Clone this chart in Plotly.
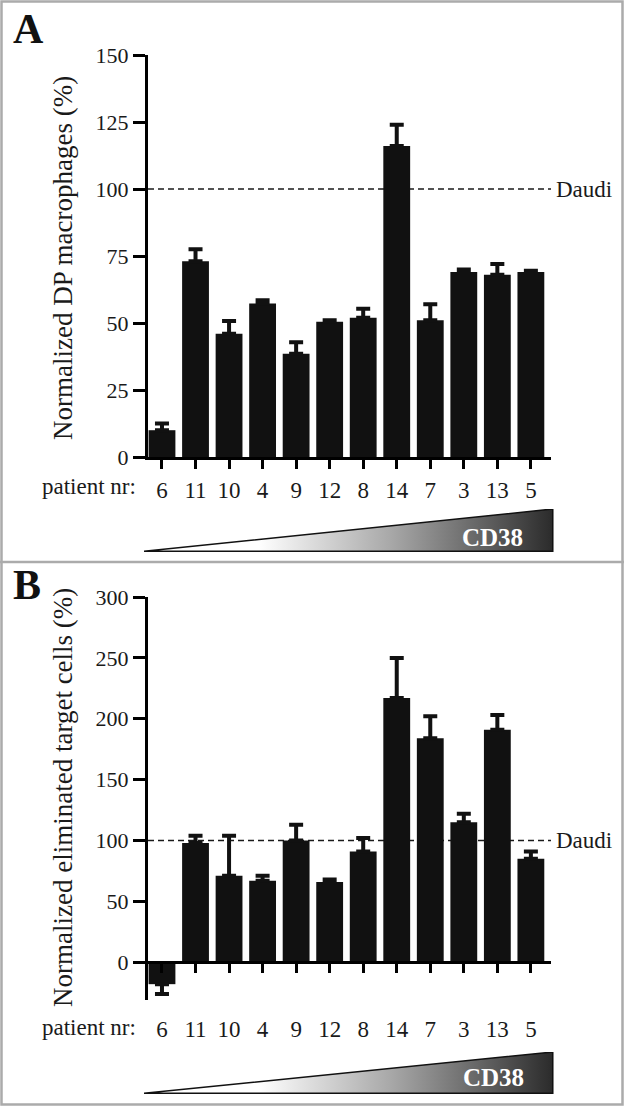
import plotly.graph_objects as go

# patient order (sorted by CD38 expression)
patients = ["6", "11", "10", "4", "9", "12", "8", "14", "7", "3", "13", "5"]

# panel A: normalized double-positive macrophages (%)
dp_macrophages = [10, 73, 46, 57.3, 38.5, 50.5, 52, 116, 51, 69, 68, 69]
dp_macrophages_err = [2.5, 4.5, 4.7, 1.2, 4.3, 0.5, 3.3, 8, 6, 1, 4, 0.5]

# panel B: normalized eliminated target cells (%)
eliminated_cells = [-18, 98, 71, 67, 100, 66, 91, 217, 184, 115, 191, 85]
eliminated_cells_err = [8, 6, 33, 4, 13, 2, 11, 33, 18, 7, 12, 6]

daudi_level = 100
yticks_a = [0, 25, 50, 75, 100, 125, 150]
yticks_b = [0, 50, 100, 150, 200, 250, 300]

# gradient wedge outline (unit square, drawn on hidden axes)
wedge_x = [0, 1, 1, 0]
wedge_y = [0, 0, 1, 0]

W, H = 624, 1106
FONT = "Liberation Serif, Times New Roman, serif"
BAR_COLOR = "#111111"


def px_x(p):
    return p / W


def px_y(p):
    return 1 - p / H


def err_split(values, errs):
    # one-sided error bars: up for positive bars, down for negative ones
    plus = [e if v >= 0 else 0 for v, e in zip(values, errs)]
    minus = [e if v < 0 else 0 for v, e in zip(values, errs)]
    return plus, minus


fig = go.Figure()

# ------ bars ------ #
for values, errs, xa, ya in [
    (dp_macrophages, dp_macrophages_err, "x", "y"),
    (eliminated_cells, eliminated_cells_err, "x2", "y2"),
]:
    plus, minus = err_split(values, errs)
    fig.add_trace(
        go.Bar(
            x=patients,
            y=values,
            xaxis=xa,
            yaxis=ya,
            marker=dict(color=BAR_COLOR, line=dict(width=0)),
            error_y=dict(
                type="data",
                symmetric=False,
                array=plus,
                arrayminus=minus,
                color=BAR_COLOR,
                thickness=4,
                width=7,
            ),
            showlegend=False,
        )
    )

# ------ CD38 wedges ------ #
wedge_scale = [
    [0, "#ffffff"],
    [0.28, "#ffffff"],
    [0.6, "#a9a9a9"],
    [0.85, "#5c5c5c"],
    [1, "#2b2b2b"],
]
for xa, ya in [("x3", "y3"), ("x4", "y4")]:
    fig.add_trace(
        go.Scatter(
            x=wedge_x,
            y=wedge_y,
            xaxis=xa,
            yaxis=ya,
            mode="lines",
            fill="toself",
            fillgradient=dict(type="horizontal", colorscale=wedge_scale),
            line=dict(color="#111111", width=1.5),
            hoverinfo="skip",
            showlegend=False,
        )
    )

x_range = [-0.417, 11.6]
dom_x = [px_x(148), px_x(551)]
y_range_b = [-31, 300]
dom_yb = [px_y(1000), px_y(597)]
zero_pos_b = dom_yb[0] + (0 - y_range_b[0]) / (y_range_b[1] - y_range_b[0]) * (
    dom_yb[1] - dom_yb[0]
)

common_x = dict(
    type="category",
    range=x_range,
    domain=dom_x,
    tickmode="array",
    tickvals=patients,
    ticktext=patients,
    showline=True,
    linewidth=3,
    linecolor="black",
    ticks="outside",
    ticklen=9,
    tickwidth=3,
    tickcolor="black",
    tickfont=dict(family=FONT, size=23, color="#1a1a1a"),
    showgrid=False,
    zeroline=False,
    fixedrange=True,
    automargin=False,
)
common_y = dict(
    showline=True,
    linewidth=3,
    linecolor="black",
    ticks="outside",
    ticklen=12,
    tickwidth=3,
    tickcolor="black",
    tickfont=dict(family=FONT, size=22, color="#1a1a1a"),
    showgrid=False,
    zeroline=False,
    fixedrange=True,
    automargin=False,
)
hidden = dict(
    visible=False, fixedrange=True, showgrid=False, zeroline=False, automargin=False
)

fig.update_layout(
    width=W,
    height=H,
    margin=dict(l=0, r=0, t=0, b=0, autoexpand=False),
    paper_bgcolor="white",
    plot_bgcolor="rgba(0,0,0,0)",
    bargap=0.2,
    font=dict(family=FONT, color="#1a1a1a"),
    xaxis=dict(common_x, anchor="y", ticklabelstandoff=1),
    yaxis=dict(
        common_y,
        domain=[px_y(457), px_y(55)],
        range=[0, 150],
        tickvals=yticks_a,
        anchor="x",
    ),
    xaxis2=dict(common_x, anchor="free", position=zero_pos_b, ticklabelstandoff=36),
    yaxis2=dict(
        common_y,
        domain=dom_yb,
        range=y_range_b,
        tickvals=yticks_b,
        anchor="x2",
    ),
    xaxis3=dict(hidden, domain=[px_x(144), px_x(554)], range=[0, 1.003], anchor="y3"),
    yaxis3=dict(hidden, domain=[px_y(553), px_y(509)], range=[-0.04, 1], anchor="x3"),
    xaxis4=dict(hidden, domain=[px_x(144), px_x(554)], range=[0, 1.003], anchor="y4"),
    yaxis4=dict(hidden, domain=[px_y(1095), px_y(1052)], range=[-0.04, 1], anchor="x4"),
)

# ------ Daudi reference lines ------ #
for xref, yref in [("x domain", "y"), ("x2 domain", "y2")]:
    fig.add_shape(
        type="line",
        xref=xref,
        yref=yref,
        x0=0,
        x1=1,
        y0=daudi_level,
        y1=daudi_level,
        line=dict(color="#1a1a1a", width=1.5, dash="6px,4px"),
        layer="below",
    )
    fig.add_annotation(
        xref=xref,
        yref=yref,
        x=1,
        y=daudi_level,
        text="Daudi",
        showarrow=False,
        xanchor="left",
        yanchor="middle",
        xshift=3,
        font=dict(family=FONT, size=23, color="#1a1a1a"),
    )

# ------ text ------ #
texts = [
    ("A", 11, 29, 42, True, "left", 0, "#111111"),
    ("B", 11, 585, 42, True, "left", 0, "#111111"),
    ("Normalized DP macrophages (%)", 63, 258, 27, False, "center", -90, "#1a1a1a"),
    ("Normalized eliminated target cells (%)", 63, 798, 27, False, "center", -90, "#1a1a1a"),
    ("patient nr:", 138, 486, 23, False, "right", 0, "#1a1a1a"),
    ("patient nr:", 138, 1027, 23, False, "right", 0, "#1a1a1a"),
    ("CD38", 492, 537, 25, True, "center", 0, "white"),
    ("CD38", 493, 1077, 25, True, "center", 0, "white"),
]
for text, tx, ty, size, bold, anchor, angle, color in texts:
    fig.add_annotation(
        xref="paper",
        yref="paper",
        x=px_x(tx),
        y=px_y(ty),
        text=f"<b>{text}</b>" if bold else text,
        showarrow=False,
        xanchor=anchor,
        yanchor="middle",
        textangle=angle,
        font=dict(family=FONT, size=size, color=color),
    )

# ------ panel frames ------ #
fig.add_shape(
    type="rect",
    xref="paper",
    yref="paper",
    x0=px_x(1.5),
    x1=px_x(622.5),
    y0=px_y(1104.5),
    y1=px_y(1.5),
    line=dict(color="#ababab", width=2.5),
)
fig.add_shape(
    type="line",
    xref="paper",
    yref="paper",
    x0=0,
    x1=1,
    y0=px_y(562),
    y1=px_y(562),
    line=dict(color="#ababab", width=2.5),
)

# pin the graph to the window corner so the page does not overflow
pin_js = (
    "document.body.style.margin='0';"
    "var gd=document.getElementById('{plot_id}');"
    "gd.style.position='fixed';gd.style.left='0';gd.style.top='0';"
)
fig.write_html(
    "out.html", config={"displayModeBar": False}, post_script=pin_js
)
